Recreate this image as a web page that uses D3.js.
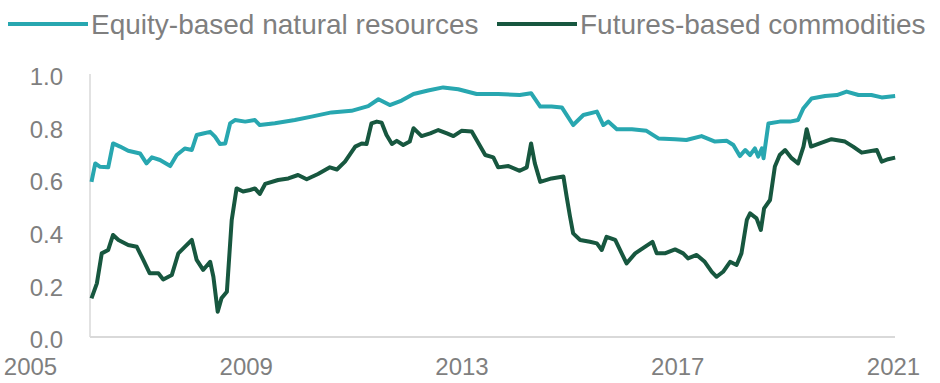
<!DOCTYPE html>
<html>
<head>
<meta charset="utf-8">
<script src="https://cdn.jsdelivr.net/npm/d3@7"></script>
<style>
  body { margin: 0; background: #fff; }
  text { font-family: "Liberation Sans", Arial, sans-serif; fill: #7f7f7f; }
</style>
</head>
<body>
<svg id="chart" width="940" height="383"></svg>
<script>
// series names + colours
const seriesNames = ["Equity-based natural resources", "Futures-based commodities"];
const seriesColors = ["#28a7b0", "#17573f"];

// tick labels
const yearTicks = [2005, 2009, 2013, 2017, 2021];
const valueTicks = [0, 0.2, 0.4, 0.6, 0.8, 1.0];

// equity-based series (decimal year, correlation)
const equityDates = [2006.14, 2006.21, 2006.30, 2006.45, 2006.54, 2006.67, 2006.82, 2007.04, 2007.16, 2007.26,
  2007.41, 2007.60, 2007.72, 2007.87, 2008.00, 2008.09, 2008.21, 2008.34, 2008.43, 2008.52,
  2008.62, 2008.71, 2008.80, 2008.99, 2009.17, 2009.26, 2009.54, 2009.91, 2010.22, 2010.59,
  2010.96, 2011.27, 2011.46, 2011.67, 2011.89, 2012.11, 2012.38, 2012.66, 2012.94, 2013.28,
  2013.68, 2014.08, 2014.29, 2014.46, 2014.67, 2014.86, 2015.07, 2015.26, 2015.51, 2015.63,
  2015.72, 2015.88, 2016.16, 2016.43, 2016.65, 2016.96, 2017.17, 2017.45, 2017.70, 2017.92,
  2018.04, 2018.16, 2018.26, 2018.35, 2018.44, 2018.50, 2018.57, 2018.60, 2018.69, 2018.90,
  2019.09, 2019.24, 2019.34, 2019.49, 2019.74, 2019.96, 2020.14, 2020.36, 2020.60, 2020.79,
  2021.04];
const equityValues = [0.59, 0.66, 0.647, 0.645, 0.736, 0.724, 0.708, 0.698, 0.66, 0.683,
  0.673, 0.65, 0.692, 0.717, 0.711, 0.768, 0.774, 0.78, 0.762, 0.734,
  0.736, 0.812, 0.825, 0.819, 0.825, 0.806, 0.813, 0.825, 0.838, 0.854,
  0.86, 0.878, 0.904, 0.882, 0.899, 0.924, 0.937, 0.949, 0.942, 0.924,
  0.924, 0.92, 0.927, 0.876, 0.876, 0.873, 0.806, 0.844, 0.857, 0.806,
  0.819, 0.79, 0.79, 0.784, 0.755, 0.752, 0.749, 0.764, 0.743, 0.746,
  0.73, 0.688, 0.711, 0.692, 0.717, 0.686, 0.717, 0.68, 0.812, 0.819,
  0.819, 0.825, 0.87, 0.907, 0.916, 0.92, 0.933, 0.92, 0.92, 0.911,
  0.916];

// futures-based series (decimal year, correlation)
const futuresDates = [2006.14, 2006.24, 2006.33, 2006.45, 2006.54, 2006.64, 2006.82, 2006.98, 2007.10, 2007.22,
  2007.38, 2007.47, 2007.63, 2007.75, 2007.87, 2008.00, 2008.09, 2008.21, 2008.34, 2008.40,
  2008.48, 2008.55, 2008.65, 2008.74, 2008.83, 2008.95, 2009.08, 2009.17, 2009.26, 2009.36,
  2009.60, 2009.79, 2009.97, 2010.13, 2010.34, 2010.56, 2010.69, 2010.84, 2011.03, 2011.15,
  2011.24, 2011.33, 2011.43, 2011.52, 2011.61, 2011.71, 2011.80, 2011.92, 2012.04, 2012.11,
  2012.26, 2012.42, 2012.57, 2012.73, 2012.85, 2013.00, 2013.19, 2013.44, 2013.59, 2013.68,
  2013.87, 2014.08, 2014.21, 2014.29, 2014.36, 2014.46, 2014.67, 2014.89, 2014.95, 2015.01,
  2015.07, 2015.20, 2015.38, 2015.51, 2015.60, 2015.69, 2015.85, 2015.97, 2016.06, 2016.22,
  2016.40, 2016.54, 2016.62, 2016.77, 2016.96, 2017.11, 2017.20, 2017.36, 2017.51, 2017.64,
  2017.73, 2017.85, 2017.98, 2018.10, 2018.19, 2018.29, 2018.35, 2018.47, 2018.55, 2018.61,
  2018.72, 2018.81, 2018.90, 2019.00, 2019.12, 2019.24, 2019.34, 2019.40, 2019.48, 2019.68,
  2019.86, 2020.11, 2020.26, 2020.42, 2020.70, 2020.79, 2020.91, 2021.04];
const futuresValues = [0.147, 0.204, 0.318, 0.331, 0.388, 0.369, 0.35, 0.343, 0.293, 0.242,
  0.242, 0.219, 0.236, 0.318, 0.343, 0.369, 0.293, 0.255, 0.286, 0.229,
  0.096, 0.147, 0.172, 0.445, 0.565, 0.553, 0.559, 0.565, 0.544, 0.582,
  0.597, 0.603, 0.616, 0.60, 0.62, 0.645, 0.637, 0.667, 0.724, 0.736,
  0.734, 0.812, 0.819, 0.815, 0.768, 0.734, 0.746, 0.73, 0.743, 0.794,
  0.764, 0.774, 0.787, 0.774, 0.764, 0.784, 0.781, 0.692, 0.683, 0.645,
  0.65, 0.632, 0.645, 0.736, 0.66, 0.59, 0.603, 0.61, 0.533, 0.46,
  0.394, 0.369, 0.362, 0.356, 0.331, 0.381, 0.369, 0.318, 0.28, 0.318,
  0.343, 0.362, 0.318, 0.318, 0.333, 0.318, 0.299, 0.312, 0.286, 0.248,
  0.229, 0.248, 0.286, 0.274, 0.318, 0.445, 0.47, 0.451, 0.407, 0.489,
  0.521, 0.648, 0.692, 0.711, 0.68, 0.66, 0.724, 0.79, 0.724, 0.739,
  0.752, 0.743, 0.724, 0.701, 0.711, 0.667, 0.676, 0.682];

const svg = d3.select("#chart");

const x = d3.scaleLinear().domain([2005, 2021]).range([30, 893]);
const y = d3.scaleLinear().domain([0, 1]).range([337, 74]);

const plotLeft = 90, plotRight = 895;

// axis lines
svg.append("line")
  .attr("x1", plotLeft).attr("x2", plotLeft)
  .attr("y1", y(1)).attr("y2", y(0))
  .attr("stroke", "#d9d9d9").attr("stroke-width", 1.5);

svg.append("line")
  .attr("x1", plotLeft).attr("x2", plotRight)
  .attr("y1", y(0)).attr("y2", y(0))
  .attr("stroke", "#d9d9d9").attr("stroke-width", 2);

// y labels
const yAxis = svg.append("g")
  .attr("transform", "translate(63,3)")
  .call(d3.axisLeft(y).tickValues(valueTicks).tickFormat(d3.format(".1f")).tickSize(0).tickPadding(0));
yAxis.select(".domain").remove();
yAxis.selectAll("text")
  .style("font-size", "24px")
  .attr("fill", "#7f7f7f")
  .attr("font-family", null);

// x labels
const xAxis = svg.append("g")
  .attr("transform", "translate(0,352)")
  .call(d3.axisBottom(x).tickValues(yearTicks).tickFormat(d3.format("d")).tickSize(0).tickPadding(6));
xAxis.select(".domain").remove();
xAxis.selectAll("text")
  .style("font-size", "24px")
  .attr("fill", "#7f7f7f")
  .attr("font-family", null);

// lines
const line = d3.line()
  .x(d => x(d[0]))
  .y(d => y(d[1]));

const series = [
  d3.zip(equityDates, equityValues),
  d3.zip(futuresDates, futuresValues)
];

svg.selectAll(".series")
  .data(series)
  .enter()
  .append("path")
  .attr("class", "series")
  .attr("d", line)
  .attr("fill", "none")
  .attr("stroke", (d, i) => seriesColors[i])
  .attr("stroke-width", 4)
  .attr("stroke-linejoin", "round");

// legend
const legendX = [8, 497];
const legend = svg.selectAll(".legend")
  .data(seriesNames)
  .enter()
  .append("g")
  .attr("class", "legend")
  .attr("transform", (d, i) => `translate(${legendX[i]},24)`);

legend.append("line")
  .attr("x1", 0).attr("x2", 80)
  .attr("stroke", (d, i) => seriesColors[i])
  .attr("stroke-width", 4);

legend.append("text")
  .attr("x", 83)
  .attr("y", 10)
  .style("font-size", "28px")
  .text(d => d);
</script>
</body>
</html>
